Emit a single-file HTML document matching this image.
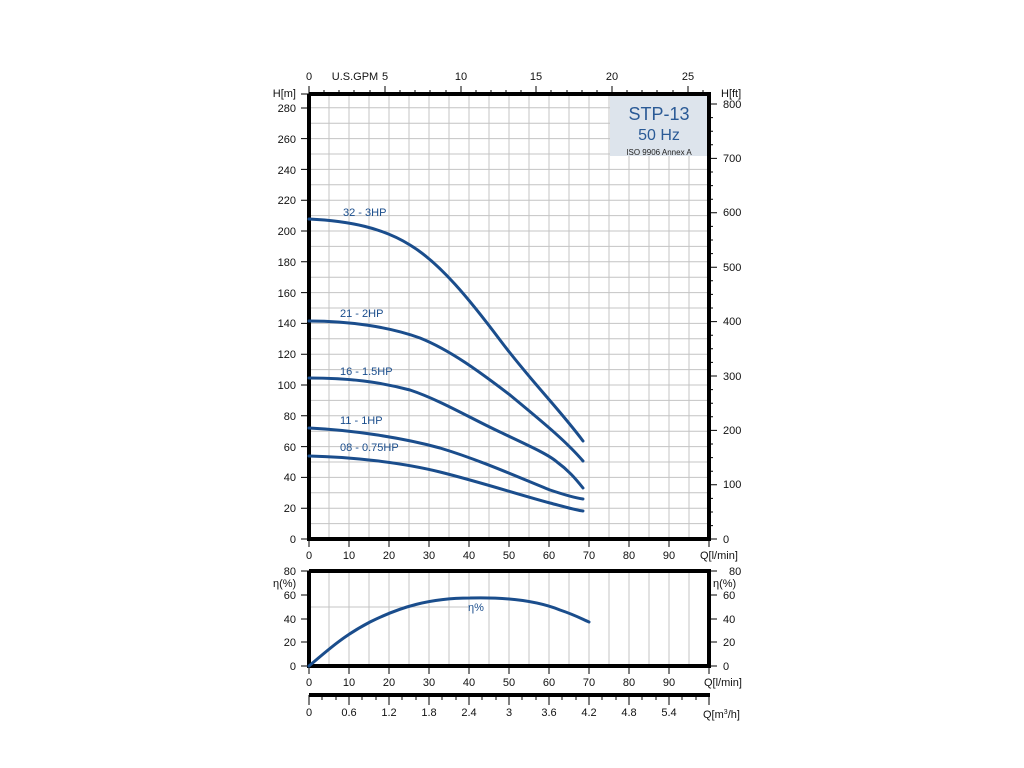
<!DOCTYPE html>
<html><head><meta charset="utf-8"><style>
body{margin:0;background:#fff;}
svg{display:block;font-family:"Liberation Sans",Arial,sans-serif;}
</style></head><body>
<svg width="1024" height="768" viewBox="0 0 1024 768" xmlns="http://www.w3.org/2000/svg">
<g stroke="#c4c4c4" stroke-width="1">
<!-- main vertical grid -->
<path d="M329 94V539M349 94V539M369 94V539M389 94V539M409 94V539M429 94V539M449 94V539M469 94V539M489 94V539M509 94V539M529 94V539M549 94V539M569 94V539M589 94V539M609 94V539M629 94V539M649 94V539M669 94V539M689 94V539"/>
<path d="M309 523.6H709M309 508.2H709M309 492.8H709M309 477.4H709M309 462H709M309 446.6H709M309 431.2H709M309 415.8H709M309 400.4H709M309 385H709M309 369.6H709M309 354.2H709M309 338.8H709M309 323.4H709M309 308H709M309 292.6H709M309 277.2H709M309 261.8H709M309 246.4H709M309 231H709M309 215.6H709M309 200.2H709M309 184.8H709M309 169.4H709M309 154H709M309 138.6H709M309 123.2H709M309 107.8H709"/>
<!-- eff grid -->
<path d="M329 571V666M349 571V666M369 571V666M389 571V666M409 571V666M429 571V666M449 571V666M469 571V666M489 571V666M509 571V666M529 571V666M549 571V666M569 571V666M589 571V666M609 571V666M629 571V666M649 571V666M669 571V666M689 571V666"/>
<path d="M309 607H470"/>
</g>
<rect x="610" y="96" width="98" height="60" fill="#dde4ec"/>
<text x="659" y="120" font-size="18" fill="#2a5a96" text-anchor="middle">STP-13</text>
<text x="659" y="140" font-size="16" fill="#2a5a96" text-anchor="middle">50 Hz</text>
<text x="659" y="155" font-size="8" fill="#222" text-anchor="middle">ISO 9906 Annex A</text>
<!-- frames -->
<g stroke="#000" fill="none">
<path d="M309 94V539H709V94H309" stroke-width="4"/>
<path d="M309 571V666H709V571H309" stroke-width="4"/>
<path d="M309 695H710" stroke-width="4"/>
</g>
<g stroke="#000" stroke-width="1">
<!-- left ticks -->
<path d="M301 94H309M301 108H309M301 138.6H309M301 169.4H309M301 200.2H309M301 231H309M301 261.8H309M301 292.6H309M301 323.4H309M301 354.2H309M301 385H309M301 415.8H309M301 446.6H309M301 477.4H309M301 508.2H309M301 539H309"/>
<!-- bottom ticks -->
<path d="M309 539V547M349 539V547M389 539V547M429 539V547M469 539V547M509 539V547M549 539V547M589 539V547M629 539V547M669 539V547M709 539V547"/>
<path d="M309 666V674M349 666V674M389 666V674M429 666V674M469 666V674M509 666V674M549 666V674M589 666V674M629 666V674M669 666V674M709 666V674"/>
<path d="M301 571H309M301 595H309M301 619H309M301 642H309M301 666H309M709 571H717M709 595H717M709 619H717M709 642H717M709 666H717"/>
<!-- top GPM ticks -->
<path d="M309 94V86M385 94V86M461 94V86M536 94V86M612 94V86M688 94V86"/>
<path d="M324 94V90M339 94V90M354 94V90M370 94V90M400 94V90M415 94V90M430 94V90M446 94V90M476 94V90M491 94V90M506 94V90M521 94V90M551 94V90M567 94V90M582 94V90M597 94V90M627 94V90M642 94V90M657 94V90M673 94V90M703 94V90"/>
<!-- right ft ticks -->
<path d="M709 104H717M709 158.4H717M709 212.8H717M709 267.2H717M709 321.6H717M709 376H717M709 430.4H717M709 484.8H717M709 539H717"/>
<path d="M709 117.6H713M709 131.2H713M709 144.8H713M709 172H713M709 185.6H713M709 199.2H713M709 226.4H713M709 240H713M709 253.6H713M709 280.8H713M709 294.4H713M709 308H713M709 335.2H713M709 348.8H713M709 362.4H713M709 389.6H713M709 403.2H713M709 416.8H713M709 444H713M709 457.6H713M709 471.2H713M709 498.4H713M709 512H713M709 525.6H713"/>
<!-- m3/h ticks -->
<path d="M309 695V705M349 695V705M389 695V705M429 695V705M469 695V705M509 695V705M549 695V705M589 695V705M629 695V705M669 695V705M709 695V705"/>
<path d="M322 695V700M336 695V700M362 695V700M376 695V700M402 695V700M416 695V700M442 695V700M456 695V700M482 695V700M496 695V700M522 695V700M536 695V700M562 695V700M576 695V700M602 695V700M616 695V700M642 695V700M656 695V700M682 695V700M696 695V700"/>
</g>
<g font-size="11" fill="#111">
<g text-anchor="end">
<text x="296" y="97">H[m]</text>
<text x="296" y="112">280</text><text x="296" y="143">260</text><text x="296" y="174">240</text><text x="296" y="204">220</text><text x="296" y="235">200</text><text x="296" y="266">180</text><text x="296" y="297">160</text><text x="296" y="327">140</text><text x="296" y="358">120</text><text x="296" y="389">100</text><text x="296" y="420">80</text><text x="296" y="451">60</text><text x="296" y="481">40</text><text x="296" y="512">20</text><text x="296" y="543">0</text>
<text x="296" y="575">80</text><text x="296" y="599">60</text><text x="296" y="623">40</text><text x="296" y="646">20</text><text x="296" y="670">0</text>
</g>
<text x="273" y="587">η(%)</text>
<g text-anchor="middle">
<text x="309" y="80">0</text><text x="355" y="80">U.S.GPM</text><text x="385" y="80">5</text><text x="461" y="80">10</text><text x="536" y="80">15</text><text x="612" y="80">20</text><text x="688" y="80">25</text>
<text x="309" y="559">0</text><text x="349" y="559">10</text><text x="389" y="559">20</text><text x="429" y="559">30</text><text x="469" y="559">40</text><text x="509" y="559">50</text><text x="549" y="559">60</text><text x="589" y="559">70</text><text x="629" y="559">80</text><text x="669" y="559">90</text>
<text x="309" y="686">0</text><text x="349" y="686">10</text><text x="389" y="686">20</text><text x="429" y="686">30</text><text x="469" y="686">40</text><text x="509" y="686">50</text><text x="549" y="686">60</text><text x="589" y="686">70</text><text x="629" y="686">80</text><text x="669" y="686">90</text>
<text x="309" y="716">0</text><text x="349" y="716">0.6</text><text x="389" y="716">1.2</text><text x="429" y="716">1.8</text><text x="469" y="716">2.4</text><text x="509" y="716">3</text><text x="549" y="716">3.6</text><text x="589" y="716">4.2</text><text x="629" y="716">4.8</text><text x="669" y="716">5.4</text>
</g>
<text x="700" y="559">Q[l/min]</text>
<text x="704" y="686">Q[l/min]</text>
<text x="703" y="718">Q[m<tspan font-size="7" dy="-4">3</tspan><tspan dy="4">/h]</tspan></text>
<text x="721" y="97">H[ft]</text>
<text x="723" y="108">800</text><text x="723" y="162">700</text><text x="723" y="216">600</text><text x="723" y="271">500</text><text x="723" y="325">400</text><text x="723" y="380">300</text><text x="723" y="434">200</text><text x="723" y="488">100</text><text x="723" y="543">0</text>
<text x="729" y="575">80</text><text x="713" y="587">η(%)</text><text x="723" y="599">60</text><text x="723" y="623">40</text><text x="723" y="646">20</text><text x="723" y="670">0</text>
</g>
<g fill="none" stroke="#1a4d8c" stroke-width="3" stroke-linecap="round" stroke-linejoin="round">
<path d="M309 219 C350 221 383 228 410 245 C440 263 470 300 500 340 C530 380 560 410 583 441"/>
<path d="M309 321 C350 321 390 327 420 338 C450 350 480 372 510 395 C540 420 565 440 583 461"/>
<path d="M309 378 C350 378 380 382 410 390 C440 400 470 418 500 432 C525 444 548 454 557 462 C568 470 575 478 583 488"/>
<path d="M309 428 C350 430 400 437 440 448 C480 460 520 478 550 490 C565 495 575 498 583 499"/>
<path d="M309 456 C350 457 400 462 440 472 C480 482 520 495 550 503 C565 507 575 510 583 511"/>
<path d="M309 666 C330 648 345 635 370 622 C400 607 430 598 470 598 C510 597 540 602 560 610 C575 615 582 619 589 622"/>
</g>
<g font-size="11" fill="#1a4d8c">
<text x="343" y="216">32 - 3HP</text>
<text x="340" y="317">21 - 2HP</text>
<text x="340" y="375">16 - 1.5HP</text>
<text x="340" y="424">11 - 1HP</text>
<text x="340" y="451">08 - 0.75HP</text>
<text x="468" y="611">η%</text>
</g>
</svg>
</body></html>
